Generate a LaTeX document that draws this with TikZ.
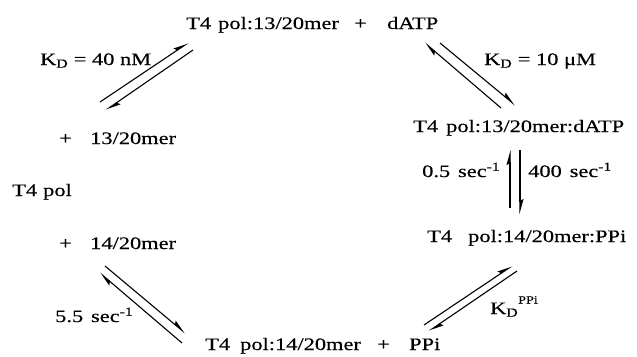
\documentclass[tikz,border=0pt]{standalone}
\usepackage{fontspec}
\setmainfont{Liberation Serif}[FakeStretch=1.28,FakeBold=0.4]
\usetikzlibrary{arrows.meta}
\begin{document}
\begin{tikzpicture}[x=1pt,y=-1pt,
  lbl/.style={anchor=base west, inner sep=0pt, font=\fontsize{17.5}{20}\selectfont},
  harp/.style={line width=1.1pt, -{Stealth[harpoon,length=13pt,width=7pt,inset=2pt]}}]
\useasboundingbox (0,0) rectangle (637,356);
% top
\node[lbl] (t1) at (186,29) {T4};
\node[lbl] (t2) at (218,29) {pol:13/20mer};
\node[lbl] (tp) at (354,29) {+};
\node[lbl] (td) at (387,29) {dATP};
% left column
\node[lbl] (kd1) at (40,65) {K\textsubscript{D} = 40 nM};
\node[lbl] (pa) at (59,144) {+};
\node[lbl] (m13) at (90,144) {13/20mer};
\node[lbl] (e1) at (12,196) {T4};
\node[lbl] (e2) at (43,196) {pol};
\node[lbl] (pb) at (59,249) {+};
\node[lbl] (m14) at (90,249) {14/20mer};
\node[lbl] (k55) at (55,322) {5.5\hspace{0.45em}sec\textsuperscript{-1}};
% bottom
\node[lbl] (b1) at (205,350) {T4};
\node[lbl] (b2) at (240,350) {pol:14/20mer};
\node[lbl] (bp) at (377,350) {+};
\node[lbl] (bq) at (409,350) {PPi};
% right column
\node[lbl] (kd2) at (484,65) {K\textsubscript{D} = 10 μM};
\node[lbl] (r1) at (413,132) {T4};
\node[lbl] (r2) at (446,132) {pol:13/20mer:dATP};
\node[lbl] (k05) at (422,177) {0.5\hspace{0.45em}sec\textsuperscript{-1}};
\node[lbl] (k400) at (528,177) {400\hspace{0.45em}sec\textsuperscript{-1}};
\node[lbl] (s1) at (427,242) {T4};
\node[lbl] (s2) at (468,242) {pol:14/20mer:PPi};
\node[lbl] (kpp) at (490,314) {K\textsubscript{D}\raisebox{0.6em}{\fontsize{11}{12}\selectfont PPi}};
% arrow end points
\coordinate (a1s) at (100,102); \coordinate (a1e) at (188,43);
\coordinate (a2s) at (193,50);  \coordinate (a2e) at (106,110);
\coordinate (b1s) at (501,108); \coordinate (b1e) at (425,43);
\coordinate (b2s) at (440,43);  \coordinate (b2e) at (515,105);
\coordinate (c1s) at (510,208); \coordinate (c1e) at (510,150);
\coordinate (c2s) at (520,150); \coordinate (c2e) at (520,214);
\coordinate (d1s) at (424,325); \coordinate (d1e) at (512,266);
\coordinate (d2s) at (517,271); \coordinate (d2e) at (429,331);
\coordinate (e1s) at (105,266); \coordinate (e1e) at (185,333);
\coordinate (e2s) at (182,343); \coordinate (e2e) at (100,273);
\foreach \p in {a1,a2,b1,b2,c1,c2,d1,d2,e1,e2}
  \draw[harp] (\p s) -- (\p e);
\end{tikzpicture}
\end{document}
